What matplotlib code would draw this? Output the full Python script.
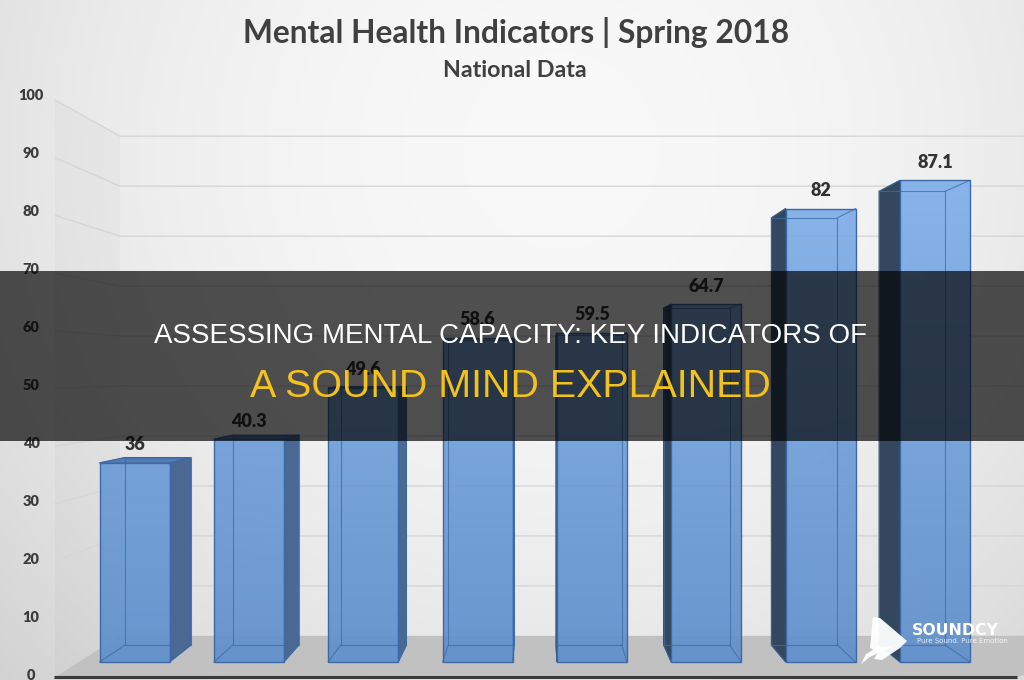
import numpy as np
import matplotlib
matplotlib.use("Agg")
import matplotlib.pyplot as plt
from matplotlib.patches import Polygon, Rectangle
from matplotlib import font_manager

# ---------------- data ----------------
values = [36, 40.3, 49.6, 58.6, 59.5, 64.7, 82, 87.1]
value_labels = ["36", "40.3", "49.6", "58.6", "59.5", "64.7", "82", "87.1"]
yticks = [0, 10, 20, 30, 40, 50, 60, 70, 80, 90, 100]
title = "Mental Health Indicators | Spring 2018"
subtitle = "National Data"
banner_line1 = "ASSESSING MENTAL CAPACITY: KEY INDICATORS OF"
banner_line2 = "A SOUND MIND EXPLAINED"
brand = "SOUNDCY"
brand_tag = "Pure Sound. Pure Emotion"

# ---------------- fonts ----------------
names = {f.name for f in font_manager.fontManager.ttflist}
def pick(*fams):
    for f in fams:
        if f in names:
            return f
    return "DejaVu Sans"
F_CAL = pick("Lato", "Open Sans", "DejaVu Sans")
F_ARIAL = pick("Liberation Sans", "DejaVu Sans")

W, H = 1024, 680
fig = plt.figure(figsize=(W / 100, H / 100), dpi=100)

# ---------------- background ----------------
bg = fig.add_axes([0, 0, 1, 1], zorder=0)
bg.set_xlim(0, W); bg.set_ylim(H, 0); bg.axis("off")
yy, xx = np.mgrid[0:H, 0:W]
r2 = ((xx - 560) / 560.0) ** 2 + ((yy - 150) / 560.0) ** 2
g = np.clip(0.975 - 0.08 * r2, 0, 1)
bg.imshow(np.dstack([g, g, g]), extent=[0, W, H, 0], aspect="auto", interpolation="bilinear")

# ---------------- main (bar) axes ----------------
X0PX, XSTEP, Y0PX, YPX = 134.5, 114.36, 662.0, 5.53
xlim = (-0.8, 7.9)
ylim = (-3.5, 104)
ax = fig.add_axes([(X0PX + xlim[0] * XSTEP) / W,
                   (H - (Y0PX - ylim[0] * YPX)) / H,
                   (xlim[1] - xlim[0]) * XSTEP / W,
                   (ylim[1] - ylim[0]) * YPX / H], zorder=1)
ax.patch.set_alpha(0)
for s in ax.spines.values():
    s.set_visible(False)
ax.set_xticks([]); ax.set_yticks([])

VPx, VPy = (540 - X0PX) / XSTEP, (Y0PX - 370) / YPX
KB, KW = 0.942, 0.866
def persp(x, y, k):
    return VPx + (x - VPx) * k, VPy + (y - VPy) * k

# walls / floor (axis decoration)
xf = (55 - X0PX) / XSTEP
xfr = (1017 - X0PX) / XSTEP
def yf(v):
    return (Y0PX - (677 - 5.77 * v)) / YPX

bl = persp(xf, yf(0), KW)
tl = persp(xf, yf(100), KW)
ax.add_patch(Polygon([(xf, yf(0)), (xf, yf(100)), tl, bl], closed=True,
                     facecolor="black", alpha=0.018, edgecolor="none", zorder=0.5))
for v in yticks[1:]:
    b = persp(xf, yf(v), KW)
    ax.plot([xf, b[0], xlim[1] + 1], [yf(v), b[1], b[1]], color="#d6d6d6",
            lw=1.0, zorder=1, solid_capstyle="butt")
ax.add_patch(Polygon([(xf, yf(0)), (xfr, yf(0)), (xlim[1] + 1, bl[1]), bl], closed=True,
                     facecolor="#c1c1c1", edgecolor="none", zorder=1.5))
ax.plot([xf - 0.01, xfr], [yf(0), yf(0)], color="#3a3a3a", lw=2.2, zorder=2,
        solid_capstyle="butt")

# bars
x = np.arange(len(values))
w = 70 / XSTEP
bars = ax.bar(x, values, width=w, color="none", edgecolor="#3d6aa6",
              linewidth=1.0, zorder=6)
c0 = np.array([0.37, 0.56, 0.80])
c1 = np.array([0.50, 0.69, 0.92])
for i, (rect, v) in enumerate(zip(bars, values)):
    x0 = rect.get_x(); x1 = x0 + rect.get_width()
    t = np.linspace(0, v / 90.0, 120)[:, None]
    img = (c0 + (c1 - c0) * t).reshape(-1, 1, 3)
    im = ax.imshow(img, origin="lower", extent=[x0, x1, 0, v], aspect="auto",
                   alpha=0.92, zorder=5, interpolation="bilinear")
    im.set_clip_path(rect)
    bx0, by0 = persp(x0, 0, KB)
    bx1, by1 = persp(x1, v, KB)
    if bx1 > x1 + 0.005:
        ax.add_patch(Polygon([(x1, 0), (x1, v), (bx1, by1), (bx1, by0)], closed=True,
                             facecolor="#4a6892", edgecolor="#3d6aa6", lw=0.8, zorder=4))
    if bx0 < x0 - 0.005:
        ax.add_patch(Polygon([(x0, 0), (x0, v), (bx0, by1), (bx0, by0)], closed=True,
                             facecolor="#33485f", edgecolor="#2e4563", lw=0.8, zorder=4))
    if by1 > v:
        ax.add_patch(Polygon([(x0, v), (x1, v), (bx1, by1), (bx0, by1)], closed=True,
                             facecolor="#557cb0", edgecolor="#3d6aa6", lw=0.8, zorder=4))
    # back edges & connectors
    ax.plot([bx0, bx1, bx1, bx0, bx0], [by0, by0, by1, by1, by0],
            color="#3f6aa3", lw=0.8, alpha=0.75, zorder=7)
    for (fx, fy), (qx, qy) in [((x0, 0), (bx0, by0)), ((x1, 0), (bx1, by0)),
                               ((x0, v), (bx0, by1)), ((x1, v), (bx1, by1))]:
        ax.plot([fx, qx], [fy, qy], color="#3f6aa3", lw=0.8, alpha=0.75, zorder=7)
    ax.annotate(value_labels[i], (i, v), xytext=(0, 13), textcoords="offset points",
                ha="center", va="center", fontsize=13, fontweight="heavy",
                color="#333333", family=F_CAL, zorder=8)

ax.set_xlim(*xlim); ax.set_ylim(*ylim)

# ---------------- y tick labels ----------------
axt = fig.add_axes([31 / W, (H - 675) / H, 0.0005, (675 - 95) / H], zorder=2)
axt.patch.set_alpha(0)
for s in axt.spines.values():
    s.set_visible(False)
axt.set_xticks([])
axt.set_ylim(0, 100)
axt.set_yticks(yticks)
axt.set_yticklabels([str(t) for t in yticks], fontweight="heavy", family=F_CAL)
axt.tick_params(axis="y", length=0, pad=0, labelsize=10.5, labelcolor="#3c3c3c")
for lab in axt.get_yticklabels():
    lab.set_ha("center")

# ---------------- overlay ----------------
ov = fig.add_axes([0, 0, 1, 1], zorder=10)
ov.set_xlim(0, W); ov.set_ylim(H, 0); ov.axis("off"); ov.patch.set_alpha(0)
ov.add_patch(Rectangle((0, 271), W, 170, facecolor="black", alpha=0.68,
                       edgecolor="none"))

renderer = fig.canvas.get_renderer()
def fit(t, target):
    bb = t.get_window_extent(renderer)
    t.set_fontsize(t.get_fontsize() * target / bb.width)

t1 = ov.text(516, 43, title, ha="center", va="baseline", fontsize=20,
             fontweight="bold", color="#404040", family=F_CAL)
fit(t1, 548)
t2 = ov.text(515, 77, subtitle, ha="center", va="baseline", fontsize=15,
             fontweight="bold", color="#404040", family=F_CAL)
fit(t2, 144)
b1 = ov.text(510.5, 343, banner_line1, ha="center", va="baseline", fontsize=18,
             color="white", family=F_ARIAL)
fit(b1, 711)
b2 = ov.text(510.5, 397, banner_line2, ha="center", va="baseline", fontsize=28,
             color="#f4c21f", family=F_ARIAL)
fit(b2, 521)

# logo
ov.add_patch(Polygon([(873, 617), (880, 618), (907, 641), (900, 648), (882, 660),
                      (874, 659), (878, 652), (870, 648)], closed=True,
                     facecolor="white", edgecolor="none", alpha=0.95))
ov.add_patch(Polygon([(861, 664), (866, 654), (878, 647), (895, 646), (880, 652),
                      (870, 657)], closed=True, facecolor="white", edgecolor="none",
                     alpha=0.95))
lb = ov.text(912, 635, brand, ha="left", va="baseline", fontsize=12,
             fontweight="bold", color="white", family="DejaVu Sans")
fit(lb, 87)
ov.text(917, 643, brand_tag, ha="left", va="baseline", fontsize=5,
        color="white", alpha=0.85, family="DejaVu Sans")

fig.savefig("out.png", dpi=100)
